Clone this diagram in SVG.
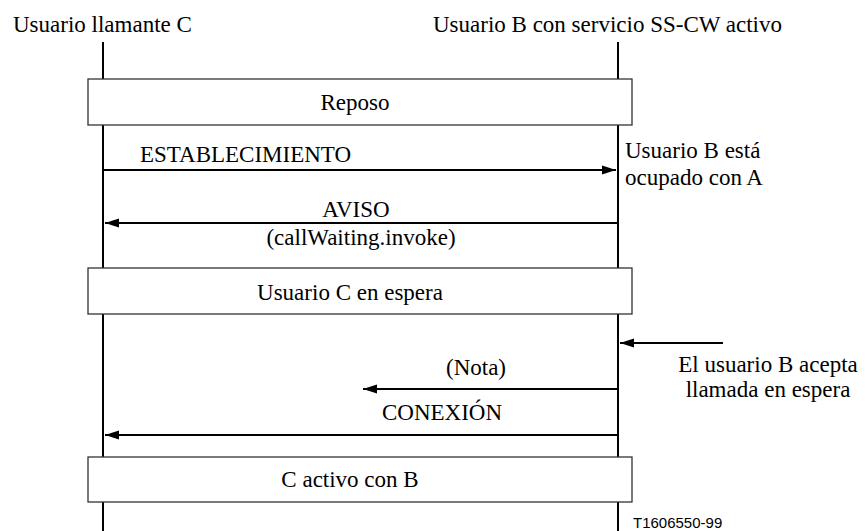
<svg xmlns="http://www.w3.org/2000/svg" width="865" height="531" viewBox="0 0 865 531">
<defs>
<marker id="ah" markerWidth="14" markerHeight="10" refX="14" refY="5" orient="auto" markerUnits="userSpaceOnUse">
<path d="M0,0.5 L14,5 L0,9.5 Z" fill="#000"/>
</marker>
<style>
text{font-family:"Liberation Serif","Times New Roman",serif;font-size:23px;fill:#000}
.c{text-anchor:middle}
.life{stroke:#000;stroke-width:2;fill:none}
.msg{stroke:#000;stroke-width:2;fill:none;marker-end:url(#ah)}
.box{fill:#fff;stroke:#333;stroke-width:1.3}
.id{font-family:"Liberation Sans",Arial,sans-serif;font-size:15px}
</style>
</defs>
<rect width="865" height="531" fill="#fff"/>
<g id="lifelines">
<line class="life" x1="103" y1="42" x2="103" y2="531"/>
<line class="life" x1="618" y1="42" x2="618" y2="531"/>
</g>
<g id="userC"><text x="13" y="32">Usuario llamante C</text></g>
<g id="userB"><text x="433" y="32">Usuario B con servicio SS-CW activo</text></g>
<g id="reposo">
<rect class="box" x="88" y="79" width="544" height="46"/>
<text class="c" x="355" y="110">Reposo</text>
</g>
<g id="espera">
<rect class="box" x="88" y="268" width="544" height="46"/>
<text class="c" x="350" y="300">Usuario C en espera</text>
</g>
<g id="activo">
<rect class="box" x="88" y="457" width="544" height="45"/>
<text class="c" x="350" y="487">C activo con B</text>
</g>
<g id="notes">
<text x="625" y="158">Usuario B está</text>
<text x="625" y="185">ocupado con A</text>
<text class="c" x="768" y="372">El usuario B acepta</text>
<text class="c" x="768" y="397">llamada en espera</text>
<text class="id" x="633" y="528">T1606550-99</text>
</g>
<g id="connectors">
<line class="msg" x1="103" y1="170" x2="616" y2="170"/>
<line class="msg" x1="618" y1="223" x2="105" y2="223"/>
<line class="msg" x1="723" y1="343" x2="620" y2="343"/>
<line class="msg" x1="618" y1="389" x2="363" y2="389"/>
<line class="msg" x1="618" y1="435" x2="105" y2="435"/>
</g>
<g id="labels">
<text x="140" y="162">ESTABLECIMIENTO</text>
<text class="c" x="356" y="217">AVISO</text>
<text class="c" x="361" y="245">(callWaiting.invoke)</text>
<text class="c" x="476" y="375">(Nota)</text>
<text class="c" x="442" y="420">CONEXIÓN</text>
</g>
</svg>
